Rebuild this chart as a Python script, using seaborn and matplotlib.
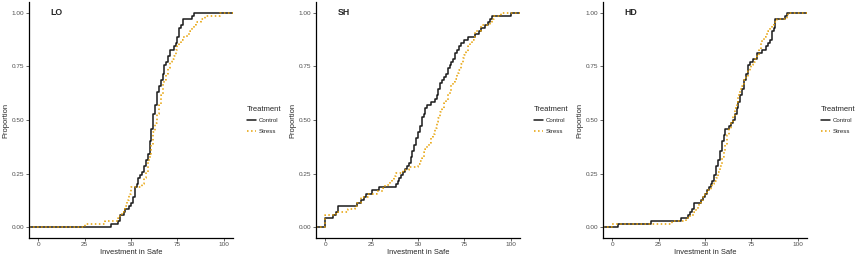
import matplotlib
matplotlib.use("Agg")
import matplotlib.pyplot as plt
import numpy as np
import pandas as pd
import seaborn as sns

# investment values per game / treatment
panels = ["LO", "SH", "HD"]
treatments = ["Control", "Stress"]

lo_control = [39, 43, 44, 44, 46, 47, 49, 50, 51, 51, 52, 52, 52, 53, 54, 54, 55,
              56, 57, 57, 58, 58, 59, 59, 60, 60, 60, 60, 61, 61, 61, 61, 62, 62, 62,
              62, 62, 63, 63, 63, 64, 64, 64, 64, 65, 65, 66, 66, 67, 67, 68, 68, 68,
              69, 70, 70, 71, 71, 73, 74, 75, 75, 76, 76, 76, 77, 78, 78, 83, 84]
lo_stress = [25, 36, 43, 44, 45, 46, 47, 48, 48, 49, 49, 50, 50, 56, 57, 57, 58, 58,
             59, 59, 59, 59, 60, 60, 61, 61, 61, 62, 62, 62, 62, 63, 63, 63, 64, 64,
             64, 65, 65, 65, 66, 66, 66, 67, 67, 67, 67, 68, 69, 69, 70, 70, 71, 71,
             72, 73, 74, 74, 75, 76, 77, 78, 80, 82, 83, 84, 85, 88, 90, 98]
sh_control = [0, 0, 0, 4, 6, 7, 7, 17, 19, 21, 22, 25, 29, 38, 39, 40, 41, 42, 43,
              44, 45, 46, 46, 47, 47, 48, 48, 49, 49, 50, 50, 51, 51, 52, 52, 52, 53,
              54, 54, 55, 57, 59, 60, 61, 61, 62, 62, 63, 64, 65, 66, 66, 67, 68, 69,
              70, 70, 71, 72, 73, 75, 77, 81, 83, 84, 86, 88, 89, 90, 100]
sh_stress = [0, 0, 0, 0, 6, 12, 16, 17, 19, 19, 23, 28, 31, 32, 35, 36, 37, 38, 42,
             45, 50, 51, 52, 53, 53, 54, 55, 56, 57, 57, 58, 59, 59, 60, 60, 61, 62,
             62, 63, 64, 64, 65, 66, 66, 67, 68, 68, 69, 70, 71, 71, 72, 73, 73, 74,
             74, 75, 76, 77, 77, 78, 79, 80, 81, 81, 84, 84, 89, 90, 91, 95]
hd_control = [3, 21, 37, 41, 42, 43, 44, 44, 48, 49, 50, 51, 52, 53, 54, 55, 55, 56,
              56, 56, 57, 57, 58, 58, 58, 59, 59, 59, 60, 60, 61, 61, 63, 64, 65, 66,
              66, 67, 67, 68, 68, 69, 69, 70, 70, 71, 71, 71, 72, 72, 73, 73, 73, 74,
              76, 78, 78, 81, 83, 84, 85, 86, 86, 86, 87, 88, 88, 88, 93, 94]
hd_stress = [0, 32, 40, 42, 44, 45, 46, 47, 48, 49, 50, 51, 53, 54, 55, 56, 57, 57,
             58, 58, 59, 59, 59, 60, 60, 61, 61, 62, 62, 62, 63, 63, 64, 64, 65, 65,
             66, 66, 66, 67, 67, 68, 68, 69, 69, 70, 71, 71, 72, 73, 73, 74, 75, 76,
             77, 78, 79, 79, 80, 80, 81, 82, 83, 84, 85, 86, 87, 89, 94, 95]

series = {
    ("LO", "Control"): lo_control, ("LO", "Stress"): lo_stress,
    ("SH", "Control"): sh_control, ("SH", "Stress"): sh_stress,
    ("HD", "Control"): hd_control, ("HD", "Stress"): hd_stress,
}
df = pd.DataFrame(
    [(p, t, v) for (p, t), vals in series.items() for v in vals],
    columns=["game", "Treatment", "invest"],
)

sns.set_theme(style="ticks")
plt.rcParams["font.family"] = ["Liberation Sans", "DejaVu Sans"]

colors = {"Control": "#1a1a1a", "Stress": "#E69F00"}
styles = {"Control": "-", "Stress": ":"}

fig = plt.figure(figsize=(8.56, 2.58), dpi=100)
lefts = [29 / 856, 316 / 856, 603 / 856]
grey = "#4D4D4D"

for left, game in zip(lefts, panels):
    ax = fig.add_axes([left, 20 / 258, 204 / 856, 236 / 258])
    sub = df[df["game"] == game]
    for t in treatments:
        sns.ecdfplot(data=sub[sub["Treatment"] == t], x="invest", ax=ax,
                     color=colors[t], linestyle=styles[t], linewidth=1.1, label=t)
    ax.set_xlim(-5, 105)
    ax.set_ylim(-0.05, 1.05)
    # carry the steps out to both panel edges like ggplot's stat_ecdf
    x0, x1 = ax.get_xlim()
    for line in ax.lines:
        x, y = line.get_data()
        x = np.where(np.isinf(x), x0, x)
        line.set_data(np.r_[x, x1], np.r_[y, y[-1]])
    ax.set_xticks([0, 25, 50, 75, 100])
    ax.set_yticks([0, 0.25, 0.5, 0.75, 1.0])
    ax.set_yticklabels(["0.00", "0.25", "0.50", "0.75", "1.00"])
    ax.tick_params(labelsize=4.6, colors=grey, length=2, width=0.6, pad=1.2)
    for s in ["left", "bottom"]:
        ax.spines[s].set_color("black")
        ax.spines[s].set_linewidth(0.9)
    sns.despine(ax=ax)
    ax.set_xlabel("Investment in Safe", fontsize=5.4, labelpad=1)
    ax.set_ylabel("Proportion", fontsize=5.4, labelpad=2)
    ax.text(10, 1.0, game, fontsize=6.3, fontweight="bold", ha="center", va="center")
    leg = ax.legend(title="Treatment", loc="center left", bbox_to_anchor=(1.04, 0.5),
                    frameon=False, fontsize=4.4, title_fontsize=5.5, handlelength=1.5,
                    handletextpad=0.4, labelspacing=0.9)
    leg._legend_box.align = "left"

fig.savefig("out.png", dpi=100)
